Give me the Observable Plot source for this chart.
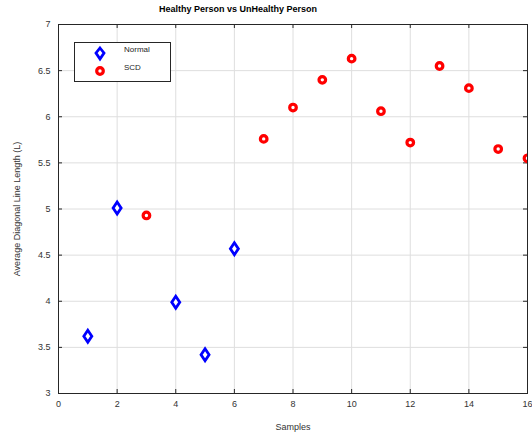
<!DOCTYPE html>
<html>
<head>
<meta charset="utf-8">
<script src="https://cdn.jsdelivr.net/npm/d3@7"></script>
<script src="https://cdn.jsdelivr.net/npm/@observablehq/plot@0.6"></script>
<style>
  body { margin: 0; background: #fff; font-family: "Liberation Sans", Arial, sans-serif; }
  #wrap { position: relative; width: 532px; height: 441px; overflow: hidden; }
  #title { position: absolute; left: 0; width: 476px; top: 4px; text-align: center; font-weight: bold; font-size: 9px; color: #000; }
  #legend { position: absolute; left: 74px; top: 42px; width: 95px; height: 38px; border: 1px solid #262626; background: #fff; box-sizing: content-box; }
  #legend svg { position: absolute; left: 0; top: 0; }
  .lt { position: absolute; left: 49px; font-size: 8px; color: #262626; }
</style>
</head>
<body>
<div id="wrap">
  <div id="chart"></div>
  <div id="title">Healthy Person vs UnHealthy Person</div>
  <div id="legend">
    <svg width="95" height="38">
      <path d="M25,5L29,10L25,16L21,10Z" fill="#fff" stroke="#0000ff" stroke-width="2.8"/>
      <circle cx="25" cy="28" r="3.3" fill="#fff" stroke="#ff0000" stroke-width="3.2"/>
    </svg>
    <div class="lt" style="top:2px">Normal</div>
    <div class="lt" style="top:20px">SCD</div>
  </div>
</div>
<script>
const normalX = [1, 2, 4, 5, 6];
const normalY = [3.62, 5.01, 3.99, 3.42, 4.57];
const scdX = [3, 7, 8, 9, 10, 11, 12, 13, 14, 15, 16];
const scdY = [4.93, 5.76, 6.10, 6.40, 6.63, 6.06, 5.72, 6.55, 6.31, 5.65, 5.55];
const xTicks = [0, 2, 4, 6, 8, 10, 12, 14, 16];
const yTicks = [3, 3.5, 4, 4.5, 5, 5.5, 6, 6.5, 7];

const normal = normalX.map((x, i) => ({x, y: normalY[i]}));
const scd = scdX.map((x, i) => ({x, y: scdY[i]}));

const W = 532, H = 441, mt = 24, mb = 48, ml = 58, mr = 5;
const ph = H - mt - mb, pw = W - ml - mr;

const tallDiamond = {
  draw(ctx) {
    ctx.moveTo(0, -6);
    ctx.lineTo(4, 0);
    ctx.lineTo(0, 6);
    ctx.lineTo(-4, 0);
    ctx.closePath();
  }
};

const chart = Plot.plot({
  width: W, height: H,
  marginTop: mt, marginBottom: mb, marginLeft: ml, marginRight: mr,
  style: { fontFamily: "Liberation Sans, Arial, sans-serif", fontSize: "9px", color: "#262626", background: "#fff" },
  x: { domain: [0, 16] },
  y: { domain: [3, 7] },
  marks: [
    Plot.gridX(xTicks, { stroke: "#dedede", strokeOpacity: 1 }),
    Plot.gridY(yTicks, { stroke: "#dedede", strokeOpacity: 1 }),
    Plot.tickX(xTicks, { x: d => d, insetTop: ph - 4, stroke: "#262626" }),
    Plot.tickX(xTicks, { x: d => d, insetBottom: ph - 4, stroke: "#262626" }),
    Plot.tickY(yTicks, { y: d => d, insetRight: pw - 4, stroke: "#262626" }),
    Plot.tickY(yTicks, { y: d => d, insetLeft: pw - 4, stroke: "#262626" }),
    Plot.axisX(xTicks, { tickSize: 0, tickPadding: 7, fontSize: 9, fill: "#333", tickFormat: d => String(d), label: "Samples", labelAnchor: "center", labelArrow: "none", labelOffset: 36 }),
    Plot.axisY(yTicks, { tickSize: 0, tickPadding: 8, fontSize: 9, fill: "#333", tickFormat: d => String(d), label: "Average Diagonal Line Length (L)", labelAnchor: "center", labelArrow: "none", labelOffset: 45 }),
    Plot.frame({ stroke: "#262626" }),
    Plot.dot(normal, { x: "x", y: "y", symbol: tallDiamond, fill: "#fff", stroke: "#0000ff", strokeWidth: 2.8, clip: true }),
    Plot.dot(scd, { x: "x", y: "y", symbol: "circle", r: 3.3, fill: "#fff", stroke: "#ff0000", strokeWidth: 3.2, clip: true })
  ]
});
document.getElementById("chart").appendChild(chart);
</script>
</body>
</html>
